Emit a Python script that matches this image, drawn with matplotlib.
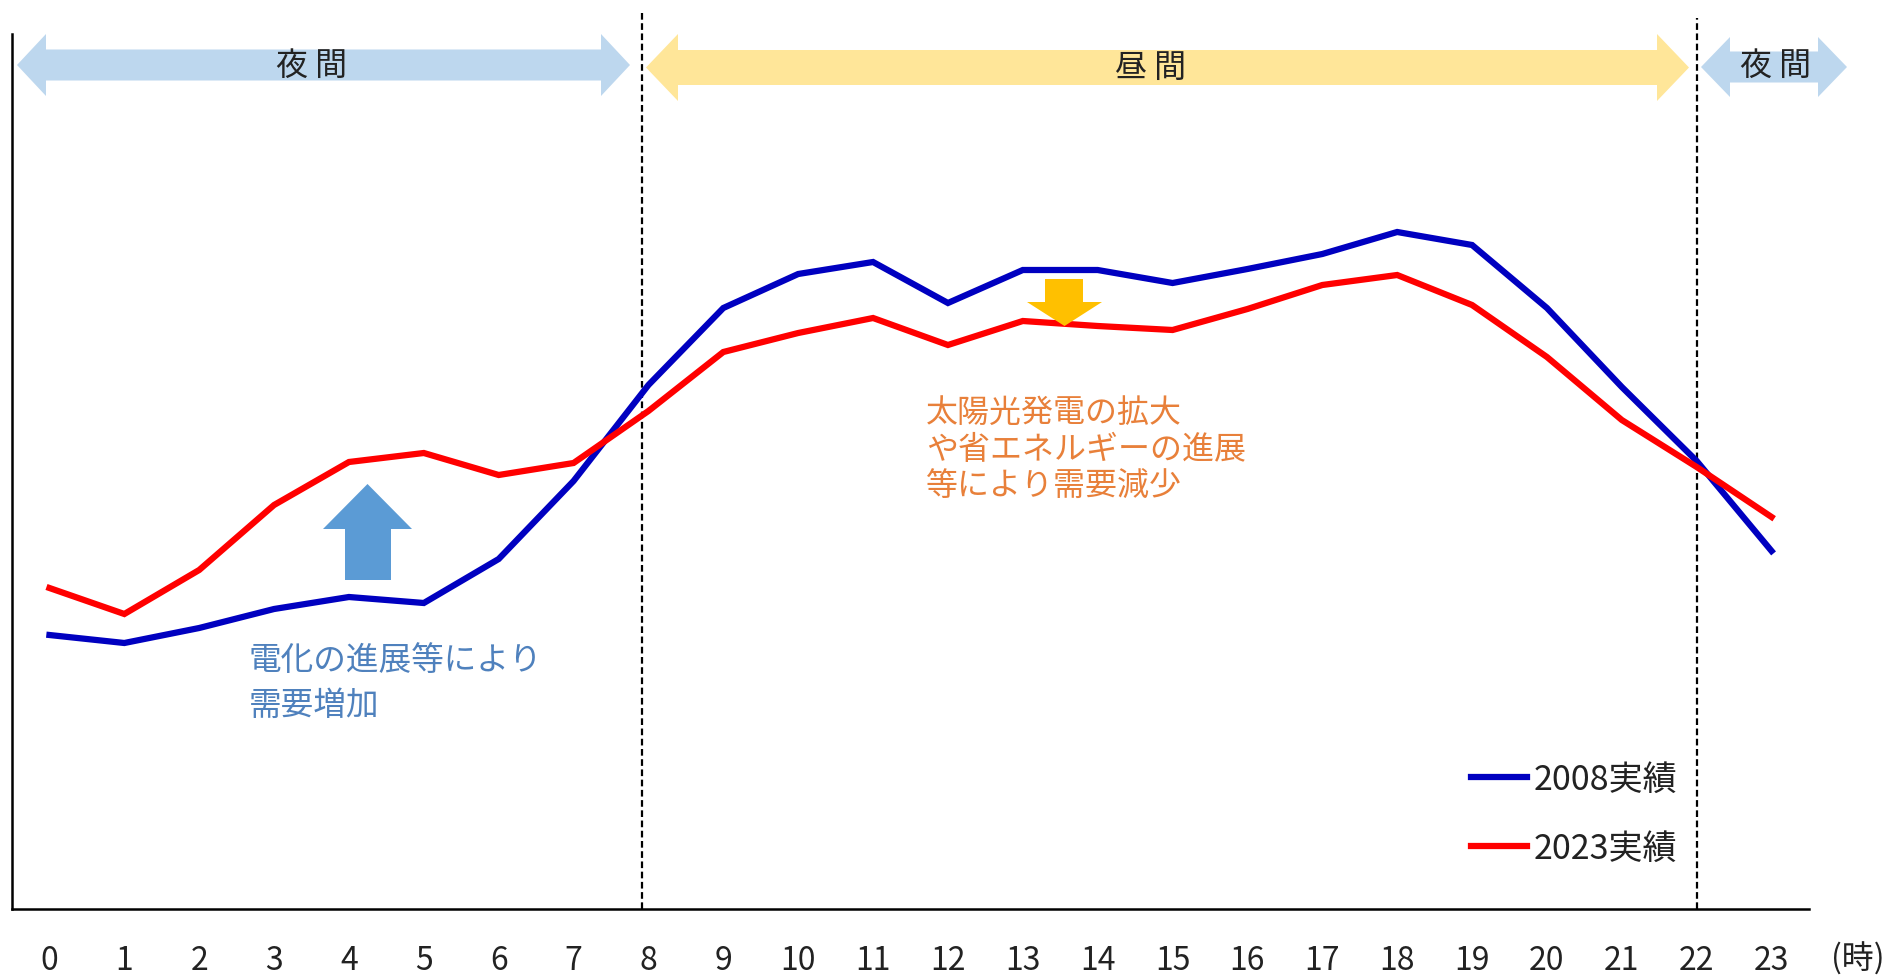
import matplotlib
matplotlib.use("Agg")
import matplotlib.pyplot as plt
from matplotlib.patches import Polygon

plt.rcParams['font.family'] = ['Noto Sans CJK JP', 'DejaVu Sans']

# ---- data (relative demand index) ----
hours = list(range(24))
hour_labels = [str(h) for h in hours]
demand_2008 = [274, 266, 281, 300, 312, 306, 350, 428, 524, 601, 635, 647,
               606, 639, 639, 626, 640, 655, 677, 664, 601, 522, 448, 358]
demand_2023 = [321, 295, 339, 404, 447, 456, 434, 446, 498, 557, 576, 591,
               564, 588, 583, 579, 600, 624, 634, 604, 552, 489, 442, 392]
series_names = ['2008実績', '2023実績']
period_bounds = [8, 22]
period_labels = ['夜 間', '昼 間', '夜 間']
x_unit = '(時)'
note_up = ['電化の進展等により', '需要増加']
note_down = ['太陽光発電の拡大', 'や省エネルギーの進展', '等により需要減少']

W, H = 1890, 978
fig = plt.figure(figsize=(W / 100, H / 100), dpi=100)
ax = fig.add_axes([12 / W, 1 - 910 / H, (1809 - 12) / W, 910 / H])
ax.set_xlim(-0.5, 23.5)
ax.set_ylim(0, 910)

# px helpers (full-res pixel -> data)
def hx(px):
    return (px - 12) / 74.875 - 0.5

def vy(py):
    return 910 - py

# spines
for s in ['top', 'right']:
    ax.spines[s].set_visible(False)
ax.spines['left'].set_linewidth(1.8)
ax.spines['bottom'].set_linewidth(1.8)
ax.spines['left'].set_bounds(0, vy(35))
ax.set_yticks([])
ax.set_xticks(hours)
ax.set_xticklabels(hour_labels, fontsize=23, color='#222222')
ax.tick_params(axis='x', length=0, pad=25)

# lines
l1, = ax.plot(hours, demand_2008, color='#0000C0', lw=4.5, solid_joinstyle='miter', zorder=3)
l2, = ax.plot(hours, demand_2023, color='#FF0000', lw=4.5, solid_joinstyle='miter', zorder=3)

# boundaries
for b, top in zip(period_bounds, [13, 19]):
    xb = b - 0.08 if b == 8 else b
    ax.plot([xb, xb], [0, vy(top)], color='black',
            lw=1.6, ls=(0, (3, 1.6)), clip_on=False, zorder=2)

# double-headed arrows
def darrow(x0, x1, yc, hh, sh, hl, color):
    pts = [(x0, yc), (x0 + hl, yc + hh), (x0 + hl, yc + sh), (x1 - hl, yc + sh),
           (x1 - hl, yc + hh), (x1, yc), (x1 - hl, yc - hh), (x1 - hl, yc - sh),
           (x0 + hl, yc - sh), (x0 + hl, yc - hh)]
    ax.add_patch(Polygon(pts, closed=True, facecolor=color, edgecolor='none',
                         clip_on=False, zorder=1))

night_c = '#BDD7EE'
day_c = '#FFE699'
darrow(hx(17), hx(630), vy(66), 31, 15.5, 29 / 74.875, night_c)
darrow(hx(646), hx(1689), vy(68.5), 33.5, 17.5, 32 / 74.875, day_c)
darrow(hx(1701), hx(1847), vy(68), 30, 15.5, 29 / 74.875, night_c)
ax.text(hx(312), vy(66), period_labels[0], fontsize=23, ha='center', va='center', color='#222222')
ax.text(hx(1151), vy(68), period_labels[1], fontsize=23, ha='center', va='center', color='#222222')
ax.text(hx(1776), vy(66), period_labels[2], fontsize=23, ha='center', va='center', color='#222222',
        clip_on=False)

# single arrows
def uparrow(xl, xr, sl, sr, top, base, bottom, color):
    pts = [(xl, base), ((xl + xr) / 2, top), (xr, base), (sr, base), (sr, bottom), (sl, bottom), (sl, base)]
    ax.add_patch(Polygon(pts, closed=True, facecolor=color, edgecolor='none', zorder=4))

uparrow(hx(323), hx(412), hx(345), hx(391), vy(485), vy(530), vy(581), '#5B9BD5')
uparrow(hx(1027), hx(1102), hx(1045), hx(1083), vy(327), vy(303), vy(280), '#FFC000')

# notes
blue_txt = '#4F81BD'
for i, t in enumerate(note_up):
    ax.text(hx(249), vy(661 + 45 * i), t, fontsize=23.5, color=blue_txt, ha='left', va='center')
orange_txt = '#E8803A'
for i, t in enumerate(note_down):
    ax.text(hx(926), vy(413 + 37 * i), t, fontsize=23, color=orange_txt, ha='left', va='center')

ax.text(hx(1885), vy(959), x_unit, fontsize=23, ha='right', va='center', color='#222222',
        clip_on=False)

# legend
leg = ax.legend([l1, l2], series_names, loc='center left',
                bbox_to_anchor=(1471 / W, 1 - 814.5 / H), bbox_transform=fig.transFigure,
                frameon=False, fontsize=24.5, handlelength=1.65, handletextpad=0.2,
                labelspacing=1.0, borderpad=0, borderaxespad=0)
for t in leg.get_texts():
    t.set_color('#222222')

fig.savefig('out.png', dpi=100, facecolor='white')
